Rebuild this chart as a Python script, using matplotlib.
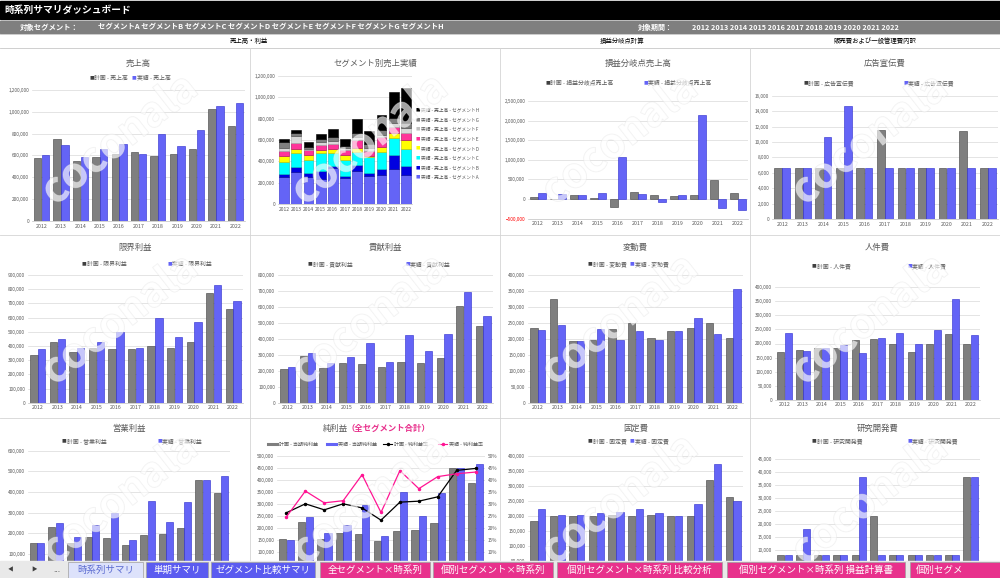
import numpy as np
import matplotlib.pyplot as plt
import matplotlib.ticker as mticker
import matplotlib.patheffects as pe
from matplotlib.patches import Rectangle
from matplotlib.lines import Line2D

plt.rcParams['font.family'] = ['Noto Sans CJK JP', 'DejaVu Sans']

# =============================================================================
# data (values in yen)
# =============================================================================
years = ['2012', '2013', '2014', '2015', '2016', '2017', '2018', '2019', '2020', '2021', '2022']
segments = ['A', 'B', 'C', 'D', 'E', 'F', 'G', 'H']

sales_plan = [575e3, 751e3, 551e3, 582e3, 612e3, 628e3, 597e3, 612e3, 658e3, 1028e3, 868e3]
sales_act = [603e3, 695e3, 582e3, 658e3, 702e3, 612e3, 800e3, 686e3, 834e3, 1049e3, 1083e3]

seg_A = [256e3, 300e3, 256e3, 230e3, 334e3, 240e3, 312e3, 262e3, 272e3, 331e3, 269e3]
seg_B = [25e3, 50e3, 31e3, 80e3, 25e3, 25e3, 53e3, 25e3, 56e3, 125e3, 87e3]
seg_C = [112e3, 131e3, 125e3, 169e3, 122e3, 150e3, 125e3, 150e3, 162e3, 159e3, 162e3]
seg_D = [56e3, 34e3, 44e3, 31e3, 31e3, 44e3, 37e3, 12e3, 47e3, 47e3, 81e3]
seg_E = [50e3, 53e3, 50e3, 47e3, 47e3, 50e3, 72e3, 50e3, 87e3, 62e3, 69e3]
seg_F = [22e3, 69e3, 12e3, 25e3, 28e3, 12e3, 25e3, 22e3, 22e3, 31e3, 41e3]
seg_G = [56e3, 31e3, 19e3, 31e3, 37e3, 19e3, 37e3, 41e3, 47e3, 47e3, 47e3]
seg_H = [31e3, 25e3, 44e3, 43e3, 78e3, 72e3, 139e3, 124e3, 141e3, 247e3, 327e3]

bep_plan = [59e3, 10e3, 93e3, 15e3, -212e3, 178e3, 93e3, 76e3, 93e3, 492e3, 153e3]
bep_act = [144e3, 136e3, 93e3, 144e3, 1076e3, 119e3, -68e3, 93e3, 2136e3, -229e3, -271e3]

adv_plan = [6600, 6600, 6600, 6600, 6600, 11560, 6600, 6600, 6600, 11470, 6600]
adv_act = [6600, 6600, 10600, 14660, 6600, 6600, 6600, 6600, 6600, 6600, 6600]

mp_plan = [336e3, 425e3, 355e3, 385e3, 378e3, 378e3, 397e3, 383e3, 425e3, 776e3, 660e3]
mp_act = [378e3, 447e3, 383e3, 430e3, 498e3, 383e3, 597e3, 463e3, 569e3, 830e3, 719e3]

cp_plan = [213e3, 290e3, 219e3, 251e3, 240e3, 224e3, 255e3, 251e3, 282e3, 608e3, 483e3]
cp_act = [224e3, 311e3, 251e3, 286e3, 374e3, 255e3, 424e3, 322e3, 432e3, 691e3, 545e3]

vc_plan = [235e3, 326e3, 194e3, 197e3, 230e3, 250e3, 204e3, 224e3, 235e3, 250e3, 204e3]
vc_act = [228e3, 243e3, 194e3, 230e3, 197e3, 224e3, 197e3, 224e3, 266e3, 214e3, 356e3]

pc_plan = [171e3, 177e3, 185e3, 185e3, 211e3, 215e3, 198e3, 171e3, 199e3, 233e3, 199e3]
pc_act = [239e3, 174e3, 183e3, 193e3, 167e3, 221e3, 239e3, 199e3, 249e3, 358e3, 230e3]

op_plan = [153e3, 231e3, 153e3, 182e3, 177e3, 145e3, 190e3, 195e3, 226e3, 460e3, 397e3]
op_act = [153e3, 250e3, 182e3, 239e3, 300e3, 166e3, 356e3, 253e3, 352e3, 460e3, 476e3]

np_plan = [154e3, 226e3, 154e3, 179e3, 175e3, 147e3, 186e3, 193e3, 219e3, 449e3, 388e3]
np_act = [151e3, 244e3, 179e3, 210e3, 294e3, 165e3, 350e3, 251e3, 346e3, 449e3, 467e3]
npr_plan = [0.263, 0.300, 0.275, 0.300, 0.283, 0.232, 0.307, 0.311, 0.329, 0.439, 0.447]
npr_act = [0.246, 0.353, 0.304, 0.313, 0.421, 0.264, 0.438, 0.363, 0.413, 0.425, 0.432]

fc_plan = [185e3, 200e3, 200e3, 200e3, 205e3, 200e3, 205e3, 200e3, 200e3, 320e3, 265e3]
fc_act = [225e3, 205e3, 205e3, 210e3, 215e3, 225e3, 210e3, 200e3, 240e3, 375e3, 250e3]

rd_plan = [8000, 8000, 8000, 8000, 8000, 23000, 8000, 8000, 8000, 8000, 38000]
rd_act = [8000, 18000, 8000, 8000, 38000, 8000, 8000, 8000, 8000, 8000, 38000]

seg_names = ['セグメント' + s for s in segments]
period_label = ' '.join(years)
tabs = ['時系列サマリ', '単期サマリ', 'ゼグメント比較サマリ', '全セグメント×時系列',
        '個別セグメント×時系列', '個別セグメント×時系列 比較分析',
        '個別セグメント×時系列 損益計算書', '個別セグメ']

# =============================================================================
# styling
# =============================================================================
W, H = 1000, 578
GRAY, GRAY_E = '#7f7f7f', '#404040'
BLUE, BLUE_E = '#6464f6', '#2a2acc'
TXT = '#595959'
GRID = '#d9d9d9'
PINK = '#e8318c'
TABBLUE = '#5b5bf0'

fig = plt.figure(figsize=(10, 5.78), dpi=100)


def px_axes(x0, y0, x1, y1, **kw):
    return fig.add_axes([x0 / W, 1 - y1 / H, (x1 - x0) / W, (y1 - y0) / H], **kw)


def ftext(x, y, s, **kw):
    kw.setdefault('ha', 'left')
    kw.setdefault('va', 'center')
    return fig.text(x / W, 1 - y / H, s, **kw)


def leg_box(x, y, color, label, size=4.2):
    ftext(x, y, '■', color=color, fontsize=size * 0.8)
    ftext(x + 5, y, label, color=TXT, fontsize=size)


def style_axis(ax, ymin, ymax, step, hidden_bottom=False):
    ax.set_ylim(ymin, ymax)
    start = ymin + step if hidden_bottom else ymin
    ax.set_yticks(np.arange(start, ymax + step / 2, step))
    ax.yaxis.set_major_formatter(mticker.StrMethodFormatter('{x:,.0f}'))
    ax.set_xlim(-0.5, len(years) - 0.5)
    if hidden_bottom:
        # category labels sit below the sheet tabs, out of view
        ax.set_xticks([])
    else:
        ax.set_xticks(np.arange(len(years)), years)
    ax.tick_params(length=0, colors=TXT, pad=2)
    ax.tick_params(axis='y', labelsize=3.4)
    ax.tick_params(axis='x', labelsize=3.8)
    ax.yaxis.grid(True, color=GRID, lw=0.5)
    ax.set_axisbelow(True)
    for s in ['top', 'right', 'left']:
        ax.spines[s].set_visible(False)
    ax.spines['bottom'].set_color('#bfbfbf')
    ax.spines['bottom'].set_linewidth(0.5)
    ax.patch.set_alpha(0)


def pair_panel(rect, title, plan, act, ymin, ymax, step, name, title_y, leg_y, leg_x,
               hidden_bottom=False):
    ax = px_axes(*rect)
    x = np.arange(len(years))
    ax.bar(x - 0.2, plan, 0.38, color=GRAY, edgecolor=GRAY_E, linewidth=0.4)
    ax.bar(x + 0.2, act, 0.38, color=BLUE, edgecolor=BLUE_E, linewidth=0.4)
    style_axis(ax, ymin, ymax, step, hidden_bottom)
    cx = (rect[0] + rect[2]) / 2
    ftext(cx, title_y, title, color=TXT, fontsize=6, ha='center')
    leg_box(leg_x[0], leg_y, GRAY_E, '計画 - ' + name)
    leg_box(leg_x[1], leg_y, BLUE, '実績 - ' + name)
    return ax


# =============================================================================
# header
# =============================================================================
fig.patches.append(Rectangle((0, 1 - 19 / H), 1, 18 / H, transform=fig.transFigure,
                             color='black', zorder=0))
ftext(4, 10, '時系列サマリダッシュボード', color='white', fontsize=7, weight='bold')
fig.patches.append(Rectangle((0, 1 - 33 / H), 1, 12 / H, transform=fig.transFigure,
                             color='#7f7f7f', zorder=0))
ftext(20, 27, '対象セグメント：', color='white', fontsize=5.3, weight='bold')
ftext(98, 27, ' '.join(seg_names), color='white', fontsize=5.3, weight='bold')
ftext(638, 27, '対象期間：', color='white', fontsize=5.0, weight='bold')
ftext(692, 27, period_label, color='white', fontsize=5.2, weight='bold')

for y in [34, 48]:
    fig.add_artist(Line2D([0, 1], [1 - y / H] * 2, color='#c8c8c8', lw=0.6))
ftext(249, 41, '売上高・利益', color='black', fontsize=4.6, ha='center')
ftext(622, 41, '損益分岐点計算', color='black', fontsize=4.6, ha='center')
ftext(875, 41, '販売費および一般管理費内訳', color='black', fontsize=4.6, ha='center')

# panel separators
for x in [250, 500, 750]:
    fig.add_artist(Line2D([x / W] * 2, [1 - 48 / H, 0], color='#d4d4d4', lw=0.6))
for y in [235, 418]:
    fig.add_artist(Line2D([0, 1], [1 - y / H] * 2, color='#d4d4d4', lw=0.6))

# =============================================================================
# row 1
# =============================================================================
pair_panel((32, 90, 245, 221), '売上高', sales_plan, sales_act, 0, 1.2e6, 2e5,
           '売上高', 63, 78, (89, 132))

# segment stacked chart
ax = px_axes(278, 76, 412, 204)
seg_vals = [seg_A, seg_B, seg_C, seg_D, seg_E, seg_F, seg_G, seg_H]
seg_cols = ['#6464f6', '#0000e0', '#00ffff', '#ffff00', '#ff3399', '#d9d9d9', '#7f7f7f', '#000000']
seg_edges = ['#2a2acc', '#00008b', '#00bfbf', '#bfbf00', '#a0005a', '#a6a6a6', '#404040', '#000000']
bottom = np.zeros(len(years))
x = np.arange(len(years))
for vals, c, e in zip(seg_vals, seg_cols, seg_edges):
    ax.bar(x, vals, 0.8, bottom=bottom, color=c, edgecolor=e, linewidth=0.4)
    bottom += np.array(vals)
style_axis(ax, 0, 1.2e6, 2e5)
ax.tick_params(axis='x', labelsize=3.6)
ftext(375, 63, 'セグメント別売上実績', color=TXT, fontsize=6, ha='center')
for i, (s, c) in enumerate(zip(segments[::-1], seg_cols[::-1])):
    ftext(416, 110 + i * 9.6, '■', color=c if c != '#d9d9d9' else '#c0c0c0', fontsize=3.2)
    ftext(421, 110 + i * 9.6, '実績 - 売上高 - セグメント' + s, color=TXT, fontsize=3.4)

# break-even sales
ax = pair_panel((528, 101, 748, 218.7), '損益分岐点売上高', bep_plan, bep_act, -5e5, 2.5e6, 5e5,
                '損益分岐点売上高', 63, 83, (545, 643))
for lab in ax.get_yticklabels():
    if lab.get_text().startswith('-') or lab.get_text().startswith('\u2212'):
        lab.set_color('red')

# advertising
pair_panel((772, 95.7, 998, 219), '広告宣伝費', adv_plan, adv_act, 0, 16000, 2000,
           '広告宣伝費', 63, 83, (803, 903))

# =============================================================================
# row 2
# =============================================================================
pair_panel((28, 275, 243, 402.7), '限界利益', mp_plan, mp_act, 0, 9e5, 1e5,
           '限界利益', 247, 264, (82, 167))
pair_panel((278, 275, 493, 402.7), '貢献利益', cp_plan, cp_act, 0, 8e5, 1e5,
           '貢献利益', 247, 264, (308, 405))
pair_panel((528, 275, 743, 402.7), '変動費', vc_plan, vc_act, 0, 4e5, 5e4,
           '変動費', 247, 264, (588, 630))
pair_panel((775, 287.3, 980, 399.7), '人件費', pc_plan, pc_act, 0, 4e5, 5e4,
           '人件費', 247, 266, (812, 907))

# =============================================================================
# row 3 (bottom part hidden behind the sheet tabs)
# =============================================================================
pair_panel((28, 450.7, 230, 574.7), '営業利益', op_plan, op_act, 0, 6e5, 1e5,
           '営業利益', 428, 441, (62, 157), hidden_bottom=True)
pair_panel((528, 456, 743, 576), '固定費', fc_plan, fc_act, 0, 4e5, 5e4,
           '固定費', 428, 441, (588, 630), hidden_bottom=True)
pair_panel((775, 459, 980, 576), '研究開発費', rd_plan, rd_act, 0, 45000, 5000,
           '研究開発費', 428, 441, (812, 907), hidden_bottom=True)

# net profit with ratio lines
ax = px_axes(277, 455.7, 485, 576)
x = np.arange(len(years))
ax.bar(x - 0.2, np_plan, 0.38, color=GRAY, edgecolor=GRAY_E, linewidth=0.4)
ax.bar(x + 0.2, np_act, 0.38, color=BLUE, edgecolor=BLUE_E, linewidth=0.4)
style_axis(ax, 0, 5e5, 5e4, hidden_bottom=True)
ax2 = ax.twinx()
ax2.plot(x, npr_plan, color='black', lw=0.9, marker='o', ms=1.5)
ax2.plot(x, npr_act, color='#ff1493', lw=0.9, marker='o', ms=1.5)
ax2.set_ylim(0, 0.5)
ax2.set_yticks(np.arange(0.05, 0.51, 0.05))
ax2.yaxis.set_major_formatter(mticker.PercentFormatter(1.0, decimals=0))
ax2.tick_params(length=0, colors=TXT, labelsize=3.4, pad=2)
for s in ax2.spines.values():
    s.set_visible(False)
ftext(323, 428, '純利益', color=TXT, fontsize=6)
ftext(346, 428, '（全セグメント合計）', color=PINK, fontsize=6, weight='bold')
leg_items = [('bar', GRAY, '計画 - 当期純利益'), ('bar', BLUE, '実績 - 当期純利益'),
             ('line', 'black', '計画 - 純利益率'), ('line', '#ff1493', '実績 - 純利益率')]
for (kind, c, lab), lx in zip(leg_items, [268, 327, 383, 438]):
    yy = 1 - 444 / H
    if kind == 'bar':
        fig.add_artist(Line2D([lx / W, (lx + 9) / W], [yy, yy], color=c, lw=2.2))
    else:
        fig.add_artist(Line2D([lx / W, (lx + 9) / W], [yy, yy], color=c, lw=0.8))
        fig.add_artist(Line2D([(lx + 4.5) / W], [yy], color=c, marker='o', ms=1.5))
    ftext(lx + 11, 444, lab, color=TXT, fontsize=3.6)

# =============================================================================
# watermark (faint)
# =============================================================================
for cx in [120, 370, 620, 870]:
    for cy in [140, 320, 500]:
        t = ftext(cx, cy, 'coconala', color='white', fontsize=30, rotation=38,
                  ha='center', alpha=0.4, weight='bold', zorder=20)
        t.set_path_effects([pe.withStroke(linewidth=0.7, foreground='#dcdcdc')])

# =============================================================================
# sheet tabs
# =============================================================================
fig.patches.append(Rectangle((0, 0), 1, 17 / H, transform=fig.transFigure,
                             color='#e9e9e9', zorder=30))
ftext(8, 570, '◀', color='#404040', fontsize=4, zorder=31)
ftext(31, 570, '▶', color='#404040', fontsize=4, zorder=31)
ftext(53, 569, '...', color='#404040', fontsize=6, zorder=31)
tab_x = [68, 146, 211, 320, 433, 557, 727, 910]
tab_r = [143, 208, 315, 430, 553, 722, 905, 1000]
for i, (lab, x0, x1) in enumerate(zip(tabs, tab_x, tab_r)):
    if i == 0:
        fc, tc = '#dde2fb', '#5b6bd0'
    elif i < 3:
        fc, tc = TABBLUE, 'white'
    else:
        fc, tc = PINK, 'white'
    fig.patches.append(Rectangle((x0 / W, 0), (x1 - x0) / W, 16 / H, transform=fig.transFigure,
                                 facecolor=fc, edgecolor='#a0a0a0', lw=0.5, zorder=31))
    ftext((x0 + x1) / 2 if i < 7 else x0 + 6, 570, lab, color=tc, fontsize=6.8,
          ha='center' if i < 7 else 'left', zorder=32)

fig.savefig('out.png', dpi=100)
